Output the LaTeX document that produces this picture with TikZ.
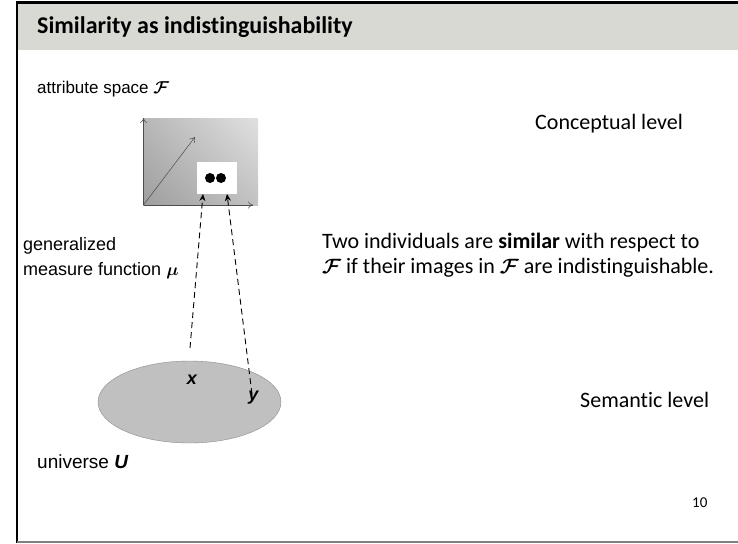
\documentclass[tikz,border=0pt]{standalone}
\usepackage{amsmath}
\usepackage{fontspec}
\setmainfont{Carlito}[Ligatures=NoCommon]
\newfontfamily\arialf{Liberation Sans}
\usetikzlibrary{arrows.meta,shadings,shapes.geometric}
\definecolor{bandgray}{HTML}{D9D9D4}
\definecolor{ellgray}{HTML}{C0C0C0}
\tikzset{
  lab/.style={anchor=base west, inner sep=0pt, font=\arialf\fontsize{18}{21}\selectfont},
  txt/.style={anchor=base west, inner sep=0pt, font=\fontsize{22}{26}\selectfont},
  ptlab/.style={inner sep=0pt, font=\arialf\bfseries\itshape\fontsize{18}{21}\selectfont},
  axis/.style={draw=black!70, line width=0.5pt, -{To[length=5pt,width=7pt]}},
  dasharrow/.style={line width=0.9pt, dash pattern=on 6pt off 4pt, -{Stealth[length=7pt,width=6pt]}},
}
\begin{document}
\begin{tikzpicture}[x=1pt,y=-1pt]
\useasboundingbox (0,0) rectangle (738,543);
% title band and frame
\fill[bandgray] (17,3) rectangle (738,50);
\draw[line width=2.5pt] (15.8,2.5) -- (738,2.5);
\draw[line width=2.4pt] (17,1.3) -- (17,543);
\draw[gray, line width=2pt] (17,542) -- (738,542);
\node[anchor=base west, inner sep=0pt, font=\bfseries\fontsize{24}{27}\selectfont] (title) at (37,34) {Similarity as indistinguishability};
% attribute space
\node[lab, font=\arialf\fontsize{17}{20}\selectfont] (attr) at (37,93) {attribute space $\boldsymbol{\mathcal{F}}$};
\shade[upper left=black!28, upper right=black!12, lower left=black!38, lower right=black!24] (143,118) rectangle (258,205);
\coordinate (o) at (143.5,205);
\coordinate (ytip) at (143.5,118);
\coordinate (xtip) at (253,205);
\coordinate (dtip) at (195,137);
\draw[axis] (o) -- (ytip);
\draw[axis] (o) -- (xtip);
\draw[axis] (o) -- (dtip);
\node[fill=white, minimum width=40pt, minimum height=32pt, inner sep=0pt] (img) at (217,178) {};
\fill (210,178) circle (5pt) coordinate (d1);
\fill (221,178) circle (5pt) coordinate (d2);
% universe
\node[ellipse, fill=ellgray, draw=black!45, line width=0.4pt, minimum width=183pt, minimum height=82pt, inner sep=0pt] (U) at (189.5,402) {};
\node[ptlab] (x) at (192,380) {x};
\node[ptlab] (y) at (253.5,398) {y};
\coordinate (xs) at (190,348);
\coordinate (ys) at (252,394);
\coordinate (ximg) at (203,194);
\coordinate (yimg) at (227,194);
\draw[dasharrow] (xs) -- (ximg);
\draw[dasharrow] (ys) -- (yimg);
% labels
\node[lab] (gen) at (23,250) {generalized};
\node[lab] (meas) at (23,275) {measure function $\boldsymbol{\mu}$};
\node[lab, font=\arialf\fontsize{19}{22}\selectfont] (univ) at (37,468) {universe \textbf{\textit{U}}};
\node[txt] (concept) at (535,129) {Conceptual level};
\node[txt] (line1) at (322,248) {Two individuals are \textbf{similar} with respect to};
\node[txt] (line2) at (322,273) {$\boldsymbol{\mathcal{F}}$ if their images in $\boldsymbol{\mathcal{F}}$ are indistinguishable.};
\node[txt] (semantic) at (580,407) {Semantic level};
\node[anchor=base west, inner sep=0pt, font=\fontsize{15}{17}\selectfont] (page) at (692,507) {10};
\end{tikzpicture}
\end{document}
